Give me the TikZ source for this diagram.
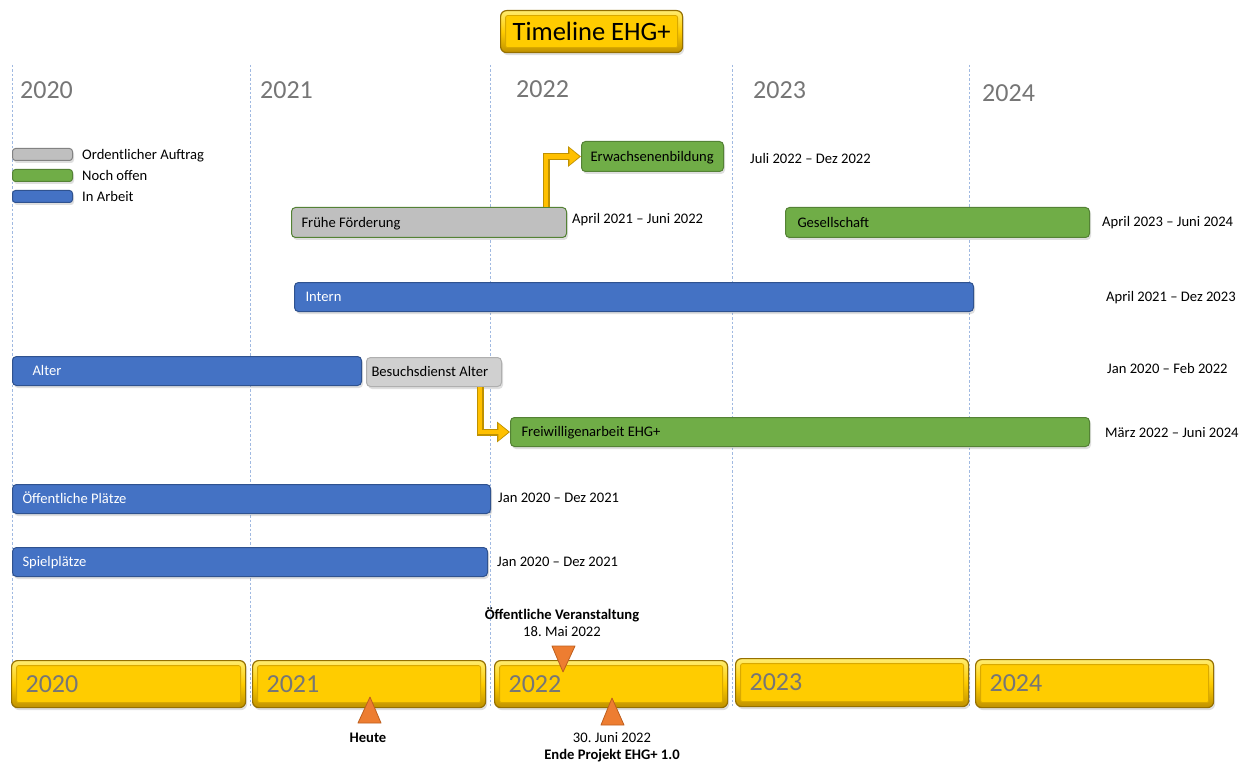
\documentclass[tikz,border=0pt]{standalone}
\usepackage{fontspec}
\setmainfont{Carlito}
\frenchspacing
\usetikzlibrary{arrows.meta,shadows,calc}
\definecolor{gold}{RGB}{255,204,0}
\definecolor{goldlight}{RGB}{255,236,110}
\definecolor{golddark}{RGB}{191,145,0}
\definecolor{goldedge}{RGB}{150,112,0}
\definecolor{arrgold}{RGB}{255,192,0}
\definecolor{barblue}{RGB}{68,114,196}
\definecolor{bluedge}{RGB}{47,82,143}
\definecolor{bargreen}{RGB}{112,173,71}
\definecolor{greenedge}{RGB}{84,130,53}
\definecolor{bargray}{RGB}{191,191,191}
\definecolor{grayedge}{RGB}{130,130,130}
\definecolor{lightbar}{RGB}{208,208,208}
\definecolor{lightedge}{RGB}{175,175,175}
\definecolor{yeargray}{RGB}{118,118,118}
\definecolor{gridblue}{RGB}{160,185,225}
\definecolor{triorange}{RGB}{237,125,49}
\definecolor{triedge}{RGB}{190,95,30}
\begin{document}
\begin{tikzpicture}[x=1pt,y=-1pt,
  txt/.style={font=\fontsize{14.6}{17}\selectfont, inner sep=0pt, text height=9.4pt, text depth=0pt},
  btxt/.style={txt, font=\fontsize{14.6}{17}\selectfont\bfseries},
  yr/.style={font=\fontsize{26}{30}\selectfont, text=yeargray, inner sep=0pt},
  shad/.style={drop shadow={shadow xshift=1.5pt, shadow yshift=-2.5pt, opacity=0.25}},
  bar/.style={anchor=north west, rounded corners=4pt, line width=1pt, txt, align=flush left, inner xsep=10pt, shad},
  bluebar/.style={bar, fill=barblue, draw=bluedge, text=white},
  greenbar/.style={bar, fill=bargreen, draw=greenedge, text=black},
  graybar/.style={bar, fill=lightbar, draw=lightedge, text=black},
  legbar/.style={anchor=north west, rounded corners=3pt, line width=1pt, minimum width=60pt, minimum height=12pt, inner sep=0pt, shad},
  bevel/.style={anchor=north west, rounded corners=6pt, draw=goldedge, line width=1.2pt,
    top color=goldlight, bottom color=golddark, middle color=gold, shad,
    path picture={\fill[gold, draw=golddark!60!gold, line width=0.8pt, rounded corners=2pt]
      ([shift={(5pt,-5pt)}]path picture bounding box.north west) rectangle
      ([shift={(-5pt,5pt)}]path picture bounding box.south east);}},
  yearbox/.style={bevel, yr, align=flush left, inner xsep=14pt, inner ysep=0pt, minimum height=47pt},
  gridline/.style={draw=gridblue, line width=0.8pt, dash pattern=on 2.5pt off 2pt},
  tri/.style={fill=triorange, draw=triedge, line width=0.8pt, line join=round},
  arrout/.style={draw=golddark, line width=7pt, line join=miter, -{Triangle[width=20pt,length=13pt]}},
  arrin/.style={draw=arrgold, line width=4.6pt, line join=miter, shorten >=1.6pt, -{Triangle[width=16pt,length=10pt]}}
]
\useasboundingbox (0,0) rectangle (1240,762);
\fill[white] (0,0) rectangle (1240,762);

% grid lines
\foreach \x in {12,250,490,732,969} \draw[gridline] (\x,65) -- (\x,706);

% title
\node[bevel, minimum width=182pt, minimum height=42pt, font=\fontsize{26.5}{30}\selectfont, text=black, inner sep=0pt] (title) at (500,10) {Timeline EHG+};

% top year labels
\node[yr, anchor=west] (t20) at (20,90) {2020};
\node[yr, anchor=west] (t21) at (260,90) {2021};
\node[yr, anchor=west] (t22) at (516,89) {2022};
\node[yr, anchor=west] (t23) at (753,90) {2023};
\node[yr, anchor=west] (t24) at (982,93) {2024};

% legend
\node[legbar, fill=bargray, draw=grayedge] (lg1) at (12,148) {};
\node[legbar, fill=bargreen, draw=greenedge] (lg2) at (12,169) {};
\node[legbar, fill=barblue, draw=bluedge] (lg3) at (12,190) {};
\node[txt, anchor=west] (lt1) at (82,155) {Ordentlicher Auftrag};
\node[txt, anchor=west] (lt2) at (82,176) {Noch offen};
\node[txt, anchor=west] (lt3) at (82,197) {In Arbeit};

% bars
\node[greenbar, inner xsep=9pt, text width=124pt, minimum height=30pt] (eb) at (581,141) {Erwachsenenbildung};
\node[bar, fill=bargray, draw=greenedge, text=black, text width=255pt, minimum height=30pt] (ff) at (291,207) {Frühe Förderung};
\node[greenbar, inner xsep=12pt, text width=280pt, minimum height=30pt] (ges) at (785,207) {Gesellschaft};
\node[bluebar, inner xsep=11pt, text width=657pt, minimum height=29pt] (intern) at (294,282) {Intern};
\node[bluebar, inner xsep=20pt, text width=309pt, minimum height=29pt] (alter) at (12,356) {Alter};
\node[graybar, inner xsep=5pt, text width=125pt, minimum height=29pt] (bes) at (366,357) {Besuchsdienst Alter};
\node[greenbar, inner xsep=11pt, text width=557pt, minimum height=29pt] (frei) at (510,417) {Freiwilligenarbeit EHG+};
\node[bluebar, text width=458pt, minimum height=29pt] (oep) at (12,484) {Öffentliche Plätze};
\node[bluebar, text width=455pt, minimum height=29pt] (spiel) at (12,547) {Spielplätze};

% dates
\node[txt, anchor=west] (d1) at (750,159) {Juli 2022 – Dez 2022};
\node[txt, anchor=west] (d2) at (572,219) {April 2021 – Juni 2022};
\node[txt, anchor=west] (d3) at (1102,222) {April 2023 – Juni 2024};
\node[txt, anchor=west] (d4) at (1106,297) {April 2021 – Dez 2023};
\node[txt, anchor=west] (d5) at (1107,369) {Jan 2020 – Feb 2022};
\node[txt, anchor=west] (d6) at (1105,433) {März 2022 – Juni 2024};
\node[txt, anchor=west] (d7) at (498,498) {Jan 2020 – Dez 2021};
\node[txt, anchor=west] (d8) at (497,562) {Jan 2020 – Dez 2021};

% bent arrows
\coordinate (a1) at (546,0);
\draw[arrout] (a1 |- ff.north) |- (eb.west);
\draw[arrin] (a1 |- ff.north) |- (eb.west);
\coordinate (a2) at (480,0);
\draw[arrout] (a2 |- bes.south) |- (frei.west);
\draw[arrin] (a2 |- bes.south) |- (frei.west);

% bottom year boxes
\node[yearbox, text width=206pt] (y20) at (11,660) {2020};
\node[yearbox, text width=205pt] (y21) at (252,660) {2021};
\node[yearbox, text width=205pt] (y22) at (494,660) {2022};
\node[yearbox, text width=205pt, minimum height=48pt] (y23) at (735,658) {2023};
\node[yearbox, text width=210pt, minimum height=48pt] (y24) at (975,659) {2024};

% markers
\filldraw[tri] (358,723) -- (370,697) -- (381,723) -- cycle;
\filldraw[tri] (552,646) -- (575,646) -- (563,672) -- cycle;
\filldraw[tri] (601,725) -- (612,698) -- (624,725) -- cycle;
\node[btxt] (m1) at (368,738) {Heute};
\node[btxt] (m2) at (562,615) {Öffentliche Veranstaltung};
\node[txt] (m3) at (562,632) {18. Mai 2022};
\node[txt] (m4) at (612,738) {30. Juni 2022};
\node[btxt] (m5) at (612,755) {Ende Projekt EHG+ 1.0};
\end{tikzpicture}
\end{document}
